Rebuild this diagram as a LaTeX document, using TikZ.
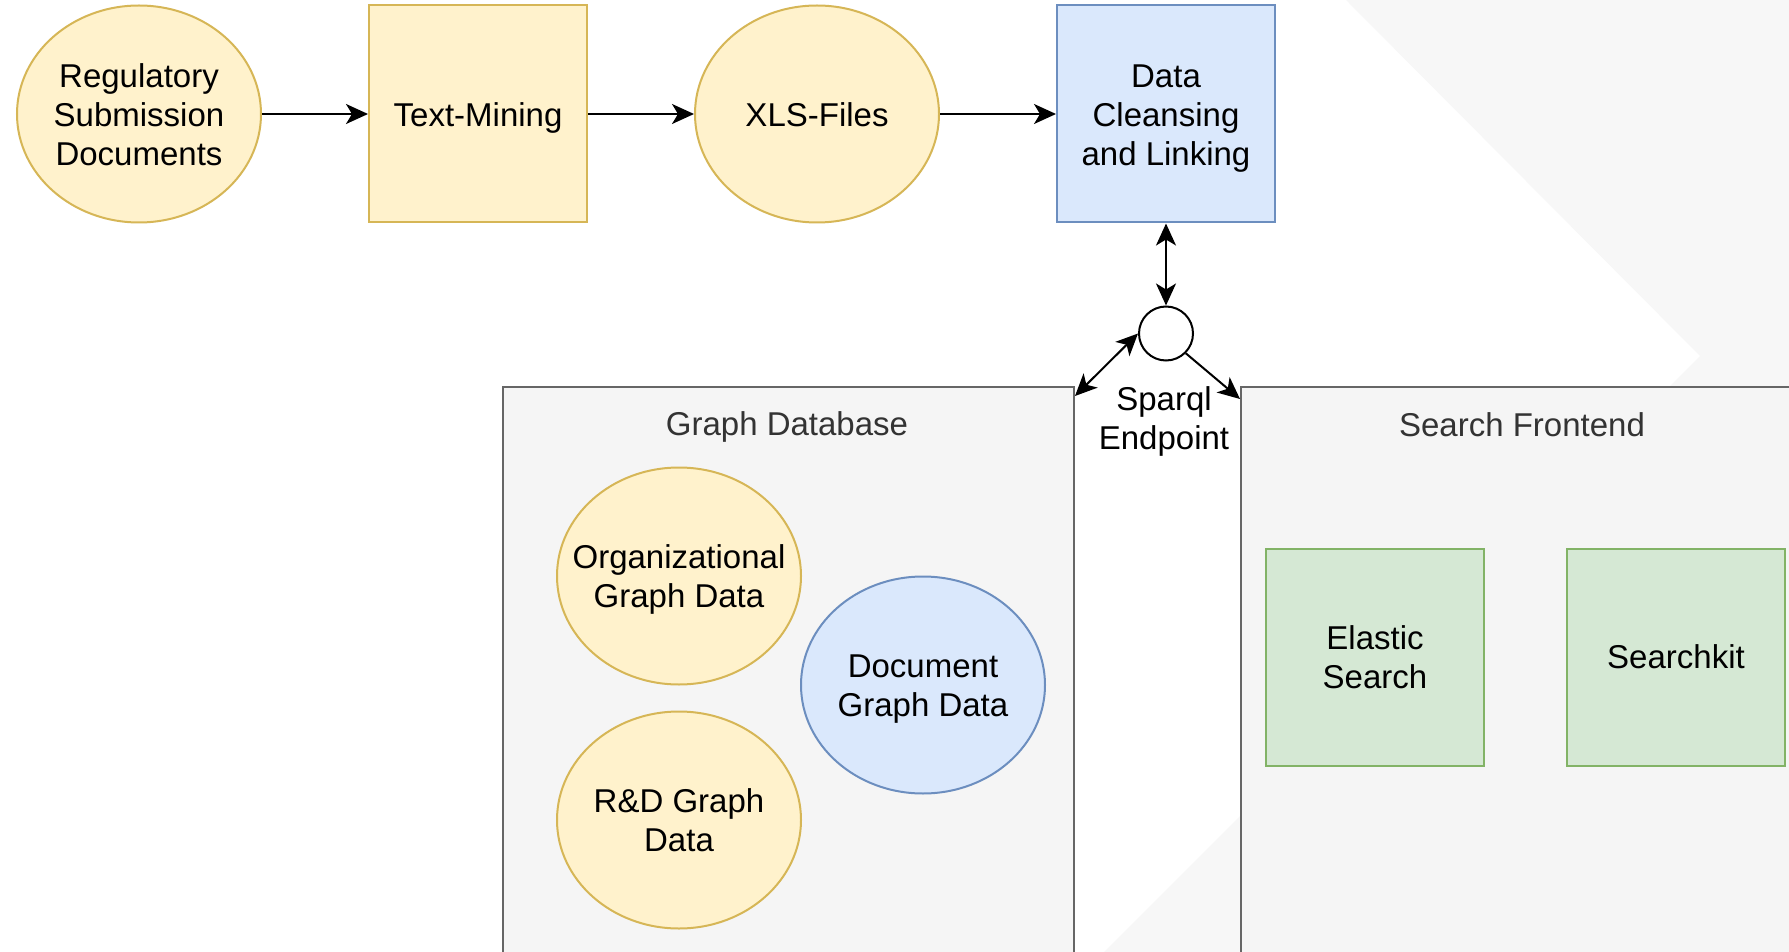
\documentclass[tikz,border=0pt]{standalone}
\usepackage{fontspec}
\setmainfont{Liberation Sans}
\usetikzlibrary{arrows.meta,shapes,positioning}
\definecolor{yfill}{HTML}{FFF2CC}
\definecolor{ydraw}{HTML}{D6B656}
\definecolor{bfill}{HTML}{DAE8FC}
\definecolor{bdraw}{HTML}{6C8EBF}
\definecolor{gfill}{HTML}{D5E8D4}
\definecolor{gdraw}{HTML}{82B366}
\definecolor{boxfill}{HTML}{F5F5F5}
\definecolor{boxdraw}{HTML}{666666}
\definecolor{boxtext}{HTML}{333333}
\definecolor{chevfill}{HTML}{F7F7F7}
% centred lines, a bit lower, that do not widen the shape around them
\newcommand{\shapetext}[1]{\raisebox{0pt}[\dimexpr\height+4.6pt\relax][\depth]{%
    \makebox[0pt]{\begin{tabular}{@{}c@{}}#1\end{tabular}}}}
\tikzset{
    every node/.style={
        font=\fontsize{16.5pt}{19.5pt}\selectfont,
        align=center,
    },
    store/.style={
        ellipse,
        line width=1pt,
        draw=ydraw,
        fill=yfill,
        inner sep=0pt,
        minimum width=122pt,
        minimum height=108.5pt,
    },
    docstore/.style={
        store,
        draw=bdraw,
        fill=bfill,
    },
    proc/.style={
        rectangle,
        line width=1pt,
        draw=ydraw,
        fill=yfill,
        inner sep=0pt,
        minimum width=109pt,
        minimum height=108.5pt,
    },
    clean/.style={
        proc,
        draw=bdraw,
        fill=bfill,
    },
    tool/.style={
        proc,
        draw=gdraw,
        fill=gfill,
    },
    endpoint/.style={
        circle,
        line width=1pt,
        draw=black,
        fill=white,
        inner sep=0pt,
        minimum size=27pt,
    },
    group/.style={
        rectangle,
        line width=1pt,
        draw=boxdraw,
        fill=boxfill,
        anchor=north west,
        minimum height=290pt,
    },
    grouptitle/.style={
        text=boxtext,
    },
    chevron/.style={
        fill=chevfill,
    },
    every edge/.style={
        draw,
        ->,
        line width=1pt,
    },
}
\begin{document}
\begin{tikzpicture}[x=0.5pt,y=-0.5pt,>={Stealth[length=11pt,width=10pt,inset=3pt]}]
    \useasboundingbox (0,0) rectangle (1789,952);
    \fill[white] (0,0) rectangle (1789,952);
    \fill[chevron] (1346,0) -- (1700,356) -- (1104,952) -- (1789,952) -- (1789,0) -- cycle;

    % pipeline
    \node[store] (reg) at (139,114) {\shapetext{Regulatory\\Submission\\Documents}};
    \node[proc,right=53pt of reg] (tm) {\shapetext{Text-Mining}};
    \node[store,right=53pt of tm] (xls) {\shapetext{XLS-Files}};
    \node[clean,right=58pt of xls] (dcl) {\shapetext{Data\\Cleansing\\and Linking}};
    \node[endpoint,below=41pt of dcl] (spq) {};
    \node (spqlabel) at (1164,421) {Sparql\\Endpoint};

    % graph database
    \node[group,minimum width=285.5pt] (gdb) at (502,386) {};
    \node[grouptitle] (gdbtitle) at (787,427) {Graph Database};
    \node[store] (org) at (679,576) {\shapetext{Organizational\\Graph Data}};
    \node[docstore] (doc) at (923,685) {\shapetext{Document\\Graph Data}};
    \node[store] (rnd) at (679,820) {\shapetext{R\&D Graph\\Data}};

    % search frontend
    \node[group,minimum width=285pt] (sfe) at (1240,386) {};
    \node[grouptitle] (sfetitle) at (1522,425) {Search Frontend};
    \node[tool] (es) at (1375,657) {Elastic\\Search};
    \node[tool,right=40.5pt of es] (sk) {Searchkit};

    \draw (reg) edge (tm);
    \draw (tm) edge (xls);
    \draw (xls) edge (dcl);
    \draw (dcl) edge[<->] (spq);
    \draw (spq.west) edge[<->] ([yshift=-5pt]gdb.north east);
    \draw (spq.south east) edge ([yshift=-6.5pt]sfe.north west);
\end{tikzpicture}
\end{document}
